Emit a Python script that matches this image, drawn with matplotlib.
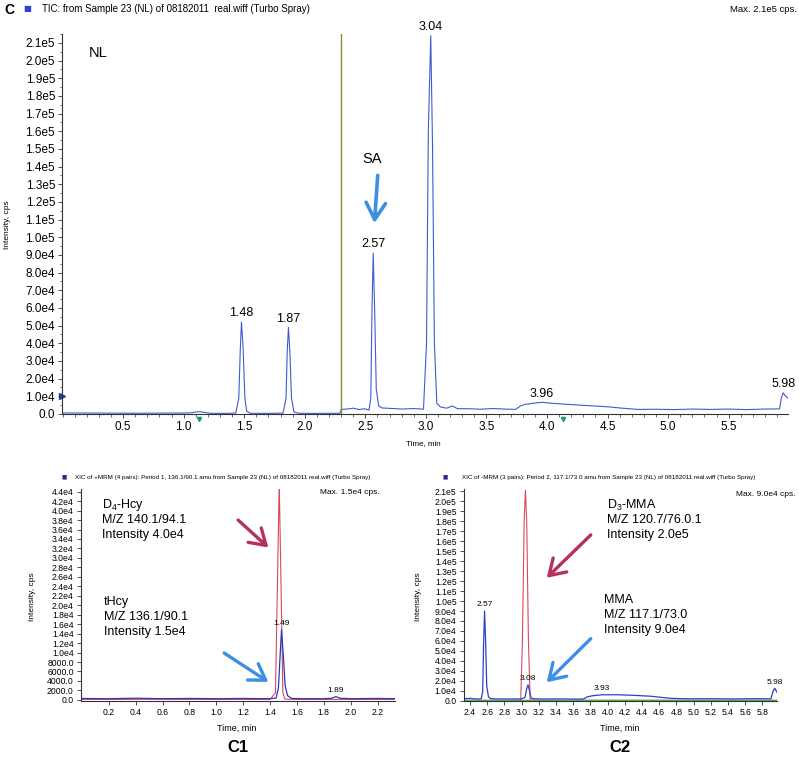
import numpy as np
import matplotlib
matplotlib.use("Agg")
import matplotlib.pyplot as plt
from matplotlib.ticker import MultipleLocator, FuncFormatter

plt.rcParams['font.family'] = ['Liberation Sans', 'DejaVu Sans']
plt.rcParams['mathtext.default'] = 'regular'

# ---- data ----
# top: TIC trace
tic_t = [0.0, 0.3, 0.6, 0.9, 1.05, 1.10, 1.13, 1.17, 1.22, 1.35, 1.43, 1.455, 1.467, 1.477, 1.49, 1.505, 1.52, 1.55,
         1.70, 1.82, 1.845, 1.855, 1.865, 1.878, 1.89, 1.91, 1.95, 2.10, 2.29, 2.30, 2.35, 2.40, 2.45, 2.49, 2.53,
         2.545, 2.555, 2.565, 2.578, 2.59, 2.61, 2.64, 2.70, 2.80, 2.90, 2.98, 3.005, 3.02, 3.04, 3.055, 3.07,
         3.09, 3.12, 3.17, 3.22, 3.26, 3.35, 3.45, 3.55, 3.65, 3.74, 3.78, 3.82, 3.90, 3.96, 4.05, 4.20, 4.35,
         4.50, 4.62, 4.75, 4.90, 5.05, 5.20, 5.35, 5.50, 5.65, 5.80, 5.92, 5.935, 5.95, 5.965, 5.99]
tic_i = [600, 500, 450, 500, 600, 1100, 1300, 900, 400, 350, 500, 9000, 36000, 52000, 38000, 9000, 1500, 400,
         350, 500, 9000, 36000, 49000, 33000, 9000, 1200, 400, 350, 400, 2600, 2800, 3300, 2500, 3000, 2200,
         9000, 60000, 91000, 55000, 14000, 4500, 3400, 3200, 2800, 3100, 2700, 40000, 160000, 214000, 150000, 40000,
         6000, 4000, 3300, 4500, 3000, 3000, 2700, 3100, 2800, 2600, 4500, 5500, 6200, 6600, 6000, 5300, 4700,
         4100, 3300, 2600, 2700, 2500, 2800, 2600, 2800, 2500, 2800, 2900, 9000, 12000, 10500, 9000]
tic_lbl_t = [1.477, 1.865, 2.565, 3.04, 3.96, 5.95]
tic_lbl_i = [52000, 49000, 91000, 214000, 6600, 12000]
tic_lbl = ['1.48', '1.87', '2.57', '3.04', '3.96', '5.98']

# C1: Hcy (blue) and D4-Hcy (red)
c1_t = [0.0, 0.2, 0.4, 0.6, 0.8, 1.0, 1.2, 1.40, 1.445, 1.462, 1.474, 1.485, 1.497, 1.512, 1.53, 1.56, 1.65,
        1.80, 1.86, 1.89, 1.92, 2.0, 2.2, 2.33]
c1_blue = [300, 250, 350, 250, 300, 250, 300, 250, 400, 2500, 9000, 14800, 10000, 3000, 900, 300, 250,
           250, 350, 700, 350, 250, 300, 250]
c1_red_t = [0.0, 0.5, 1.0, 1.40, 1.44, 1.455, 1.468, 1.481, 1.495, 1.51, 1.6, 2.0, 2.33]
c1_red = [100, 120, 100, 100, 1500, 25000, 46000, 25000, 1500, 150, 100, 100, 100]
c1_lbl_t = [1.485, 1.89]
c1_lbl_i = [14800, 700]
c1_lbl = ['1.49', '1.89']

# C2: MMA (blue), D3-MMA (red), third pair (green)
c2_t = [2.325, 2.40, 2.48, 2.53, 2.548, 2.558, 2.57, 2.582, 2.595, 2.615, 2.64, 2.70, 2.85, 3.00, 3.04,
        3.06, 3.075, 3.09, 3.11, 3.14, 3.25, 3.45, 3.65, 3.72, 3.76, 3.82, 3.93, 4.10, 4.30, 4.50, 4.65,
        4.75, 4.95, 5.20, 5.45, 5.70, 5.90, 5.925, 5.945, 5.97]
c2_blue = [2200, 2400, 1800, 1900, 9000, 55000, 90000, 60000, 15000, 4000, 2200, 1900, 1800, 1900, 3500,
           12000, 16000, 11000, 3000, 2000, 1800, 1900, 1700, 1800, 3800, 5000, 6000, 6100, 5500, 4600, 3200,
           2400, 2000, 2100, 1900, 2100, 2000, 10000, 12500, 8500]
c2_red_t = [2.325, 2.9, 2.99, 3.01, 3.03, 3.045, 3.06, 3.08, 3.10, 3.2, 5.97]
c2_red = [500, 500, 800, 60000, 180000, 211000, 180000, 60000, 800, 500, 500]
c2_green_t = [2.325, 3.0, 4.0, 5.0, 5.97]
c2_green = [300, 350, 300, 350, 300]
c2_lbl_t = [2.57, 3.075, 3.93, 5.945]
c2_lbl_i = [90000, 16000, 6000, 12500]
c2_lbl = ['2.57', '3.08', '3.93', '5.98']

W, H = 799, 757
fig = plt.figure(figsize=(W / 100, H / 100), dpi=100)


def fx(x):
    return x / W


def fy(y):
    return 1 - y / H


def fmt(v, pos):
    if abs(v) < 1e4:
        return '%.1f' % v
    e = int(np.floor(np.log10(abs(v)) + 1e-9))
    return '%.1fe%d' % (v / 10 ** e, e)


def style(ax, fs):
    for s in ['top', 'right']:
        ax.spines[s].set_visible(False)
    for s in ['left', 'bottom']:
        ax.spines[s].set_linewidth(0.8)
        ax.spines[s].set_color('#333333')
    ax.tick_params(which='major', direction='out', length=3, width=0.6, labelsize=fs, pad=2, color='#333333')
    ax.tick_params(which='minor', direction='out', length=1.8, width=0.5, color='#333333')
    ax.yaxis.set_major_formatter(FuncFormatter(fmt))


blue = '#3f5ccf'
red = '#d8485c'
arrow_blue = '#3d8fe3'
arrow_red = '#b5305b'

# ---------------- top: TIC ----------------
ax = fig.add_axes([fx(62), fy(414), fx(788 - 62), 380 / H])
ax.plot(tic_t, tic_i, color=blue, lw=0.8)
ax.axvline(2.3, color='#8a8a3c', lw=1.0)
ax.set_xlim(-0.005, 5.99)
ax.set_ylim(0, 2.15e5)
ax.xaxis.set_major_locator(MultipleLocator(0.5))
ax.xaxis.set_minor_locator(MultipleLocator(0.1))
ax.yaxis.set_major_locator(MultipleLocator(1e4))
ax.yaxis.set_minor_locator(MultipleLocator(5e3))
style(ax, 8.5)
ax.set_xticks([0.5, 1.0, 1.5, 2.0, 2.5, 3.0, 3.5, 4.0, 4.5, 5.0, 5.5])
for t, i, s in zip(tic_lbl_t, tic_lbl_i, tic_lbl):
    ax.annotate(s, (t, i), xytext=(0, 2), textcoords='offset points', ha='center', va='bottom', fontsize=9)
ax.plot([-0.005], [1e4], marker='>', color='#2a3a9a', ms=4, clip_on=False)
ax.plot([1.13, 4.13], [-2600, -2600], ls='none', marker='v', color='#1f9a5c', ms=3, clip_on=False)
ax.text(0.29, 2.04e5, 'NL', fontsize=10.5, ha='center', va='center')
ax.text(2.555, 1.44e5, 'SA', fontsize=10.5, ha='center', va='center')
ax.annotate('', xy=(2.575, 1.08e5), xytext=(2.602, 1.35e5),
            arrowprops=dict(arrowstyle='->,head_length=0.6,head_width=0.35', lw=2.6, color=arrow_blue,
                            mutation_scale=20, shrinkA=0, shrinkB=0))

fig.text(fx(4), fy(10), 'C', fontsize=10, fontweight='bold', va='center')
fig.text(fx(23), fy(9), '\u25a0', family='DejaVu Sans', fontsize=6, color='#2840d8', va='center')
fig.text(fx(42), fy(9), 'TIC: from Sample 23 (NL) of 08182011  real.wiff (Turbo Spray)', fontsize=7, va='center')
fig.text(fx(797), fy(9), 'Max. 2.1e5 cps.', fontsize=6.8, ha='right', va='center')
fig.text(fx(8), fy(225), 'Intensity, cps', fontsize=6, rotation=90, ha='center', va='center')
fig.text(fx(423), fy(444), 'Time, min', fontsize=5.8, ha='center', va='center')

# ---------------- C1 ----------------
a1 = fig.add_axes([fx(80.7), fy(701.3), fx(395 - 80.7), 212 / H])
a1.plot(c1_red_t, c1_red, color=red, lw=0.8)
a1.plot(c1_t, c1_blue, color='#2a36c0', lw=0.9)
a1.set_xlim(-0.01, 2.33)
a1.set_ylim(-300, 4.45e4)
a1.xaxis.set_major_locator(MultipleLocator(0.2))
a1.yaxis.set_major_locator(MultipleLocator(2000))
style(a1, 6.2)
a1.set_xticks(np.arange(0.2, 2.21, 0.2))
a1.set_yticks(np.arange(0, 44001, 2000))
for t, i, s in zip(c1_lbl_t, c1_lbl_i, c1_lbl):
    a1.annotate(s, (t, i), xytext=(0, 2), textcoords='offset points', ha='center', va='bottom', fontsize=6)
a1.annotate('', xy=(1.387, 32200), xytext=(1.162, 38000),
            arrowprops=dict(arrowstyle='->,head_length=0.55,head_width=0.35', lw=2.4, color=arrow_red,
                            mutation_scale=20, shrinkA=0, shrinkB=0))
a1.annotate('', xy=(1.387, 3800), xytext=(1.058, 9900),
            arrowprops=dict(arrowstyle='->,head_length=0.55,head_width=0.35', lw=2.4, color=arrow_blue,
                            mutation_scale=20, shrinkA=0, shrinkB=0))

fig.text(fx(62), fy(477), '\u25a0', family='DejaVu Sans', fontsize=4, color='#2a2a80', va='center')
fig.text(fx(75), fy(477), 'XIC of +MRM (4 pairs): Period 1, 136.1/90.1 amu from Sample 23 (NL) of 08182011 real.wiff (Turbo Spray)',
         fontsize=4.5, va='center')
fig.text(fx(380), fy(493), 'Max. 1.5e4 cps.', fontsize=6, ha='right', va='center')
for k, s in enumerate(['D$_4$-Hcy', 'M/Z 140.1/94.1', 'Intensity 4.0e4']):
    fig.text(fx(102), fy(505 + 15 * k), s, fontsize=9, va='center')
for k, s in enumerate(['tHcy', 'M/Z 136.1/90.1', 'Intensity 1.5e4']):
    fig.text(fx(104), fy(602 + 15 * k), s, fontsize=9, va='center')
fig.text(fx(33), fy(597), 'Intensity, cps', fontsize=6, rotation=90, ha='center', va='center')
fig.text(fx(237), fy(728), 'Time, min', fontsize=6.5, ha='center', va='center')
fig.text(fx(238), fy(748), 'C1', fontsize=12, fontweight='bold', ha='center', va='center')

# ---------------- C2 ----------------
a2 = fig.add_axes([fx(463.5), fy(701.3), fx(777 - 463.5), 212 / H])
a2.plot(c2_red_t, c2_red, color=red, lw=0.8)
a2.plot(c2_green_t, c2_green, color='#4caf50', lw=1.0)
a2.plot(c2_t, c2_blue, color='#2a42c8', lw=0.9)
a2.set_xlim(2.325, 5.97)
a2.set_ylim(-500, 2.12e5)
a2.yaxis.set_major_locator(MultipleLocator(1e4))
style(a2, 6.2)
a2.set_xticks(np.arange(2.4, 5.81, 0.2))
a2.xaxis.set_major_formatter(FuncFormatter(lambda v, p: '%.1f' % v))
a2.set_yticks(np.arange(0, 210001, 10000))
for t, i, s in zip(c2_lbl_t, c2_lbl_i, c2_lbl):
    a2.annotate(s, (t, i), xytext=(0, 2), textcoords='offset points', ha='center', va='bottom', fontsize=6)
a2.annotate('', xy=(3.293, 123300), xytext=(3.805, 166300),
            arrowprops=dict(arrowstyle='->,head_length=0.55,head_width=0.35', lw=2.4, color=arrow_red,
                            mutation_scale=20, shrinkA=0, shrinkB=0))
a2.annotate('', xy=(3.293, 18600), xytext=(3.805, 62300),
            arrowprops=dict(arrowstyle='->,head_length=0.55,head_width=0.35', lw=2.4, color=arrow_blue,
                            mutation_scale=20, shrinkA=0, shrinkB=0))

fig.text(fx(443), fy(477), '\u25a0', family='DejaVu Sans', fontsize=4, color='#2a2a80', va='center')
fig.text(fx(462), fy(477), 'XIC of -MRM (3 pairs): Period 2, 117.1/73.0 amu from Sample 23 (NL) of 08182011 real.wiff (Turbo Spray)',
         fontsize=4.5, va='center')
fig.text(fx(795), fy(495), 'Max. 9.0e4 cps.', fontsize=6, ha='right', va='center')
for k, s in enumerate(['D$_3$-MMA', 'M/Z 120.7/76.0.1', 'Intensity 2.0e5']):
    fig.text(fx(607), fy(505 + 15 * k), s, fontsize=9, va='center')
for k, s in enumerate(['MMA', 'M/Z 117.1/73.0', 'Intensity 9.0e4']):
    fig.text(fx(604), fy(600 + 15 * k), s, fontsize=9, va='center')
fig.text(fx(418), fy(597), 'Intensity, cps', fontsize=6, rotation=90, ha='center', va='center')
fig.text(fx(620), fy(728), 'Time, min', fontsize=6.5, ha='center', va='center')
fig.text(fx(620), fy(748), 'C2', fontsize=12, fontweight='bold', ha='center', va='center')

fig.savefig('out.png', dpi=100)
